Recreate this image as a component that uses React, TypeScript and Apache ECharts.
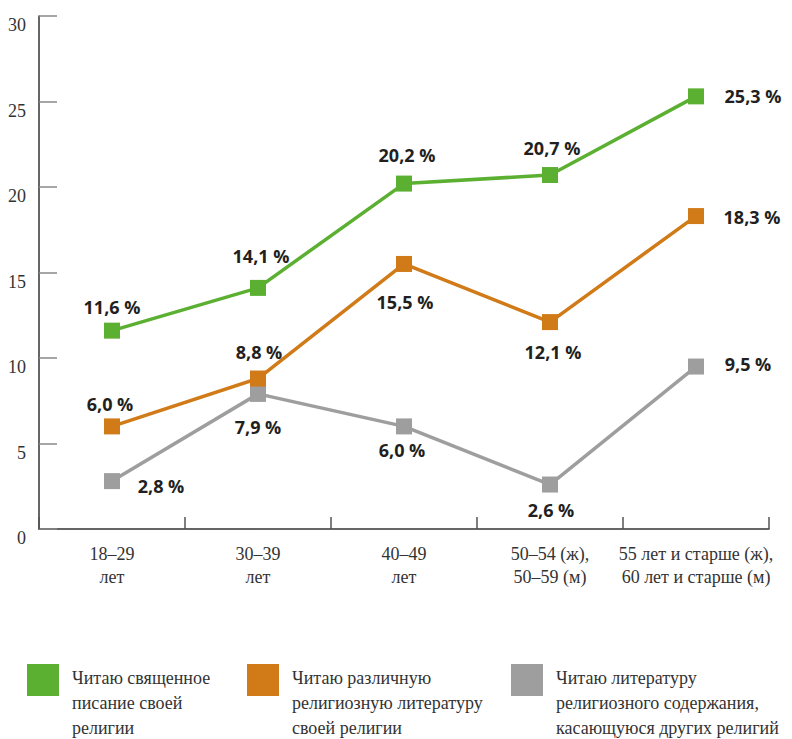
import React, { useEffect, useRef } from "react";
import * as echarts from "echarts";

const categories = [
  "18–29\nлет",
  "30–39\nлет",
  "40–49\nлет",
  "50–54 (ж),\n50–59 (м)",
  "55 лет и старше (ж),\n60 лет и старше (м)",
];
const scriptureValues = [11.6, 14.1, 20.2, 20.7, 25.3];
const ownLiteratureValues = [6.0, 8.8, 15.5, 12.1, 18.3];
const otherReligionsValues = [2.8, 7.9, 6.0, 2.6, 9.5];
const seriesNames = [
  "Читаю священное\nписание своей\nрелигии",
  "Читаю различную\nрелигиозную литературу\nсвоей религии",
  "Читаю литературу\nрелигиозного содержания,\nкасающуюся других религий",
];
const yTicks = { min: 0, max: 30, interval: 5 };

// label offsets (styling), relative to each marker centre
const scriptureOffsets = [[0, -24], [3, -32], [3, -29], [2, -27], [57, 0]];
const ownOffsets = [[-2, -22], [1, -27], [1, 38], [3, 30], [56, 1]];
const otherOffsets = [[49, 5], [0, 33], [-2, 24], [1, 25], [52, -3]];

const COLORS = ["#5bb031", "#d17a18", "#9e9e9e"];
const SERIF = "'Liberation Serif', 'DejaVu Serif', serif";
const SANS = "'Open Sans', 'Noto Sans', sans-serif";

const fmt = (v: number) => v.toFixed(1).replace(".", ",") + " %";

function buildData(values: number[], offsets: number[][]) {
  return values.map((v, i) => ({
    value: v,
    label: { offset: offsets[i] },
  }));
}

export default function App() {
  const ref = useRef<HTMLDivElement>(null);
  useEffect(() => {
    if (!ref.current) return;
    const chart = echarts.init(ref.current, null, { renderer: "svg" });
    const mkSeries = (name: string, values: number[], offsets: number[][], color: string, z: number) => ({
      type: "line",
      name,
      data: buildData(values, offsets),
      symbol: "rect",
      symbolSize: 16,
      z,
      lineStyle: { color, width: 3.5 },
      itemStyle: { color },
      label: {
        show: true,
        position: "inside",
        formatter: (p: any) => fmt(p.value),
        fontFamily: SANS,
        fontWeight: 700,
        fontSize: 18,
        color: "#231f20",
        align: "center",
        verticalAlign: "middle",
      },
    });
    const legendGraphics: any[] = [];
    const legendX = [27, 247, 511];
    seriesNames.forEach((n, i) => {
      legendGraphics.push({
        type: "rect",
        shape: { x: legendX[i], y: 664, width: 32, height: 32 },
        style: { fill: COLORS[i] },
      });
      legendGraphics.push({
        type: "text",
        x: legendX[i] + 45,
        y: 665,
        style: {
          text: n,
          font: `18px ${SERIF}`,
          fill: "#333",
          lineHeight: 25,
          verticalAlign: "top",
          align: "left",
        },
      });
    });
    chart.setOption({
      animation: false,
      grid: { left: 39, right: 23, top: 16, bottom: 210, containLabel: false },
      xAxis: {
        type: "category",
        data: categories,
        boundaryGap: true,
        axisLine: { lineStyle: { color: "#333", width: 1.5 } },
        axisTick: { show: true, inside: true, length: 12, lineStyle: { color: "#555", width: 1.5 } },
        axisLabel: {
          fontFamily: SERIF,
          fontSize: 18,
          lineHeight: 23,
          color: "#333",
          margin: 13,
          interval: 0,
        },
      },
      yAxis: {
        type: "value",
        min: yTicks.min,
        max: yTicks.max,
        interval: yTicks.interval,
        axisLine: { show: true, lineStyle: { color: "#333", width: 1.5 } },
        axisTick: { show: true, inside: true, length: 18, lineStyle: { color: "#888", width: 1.5 } },
        splitLine: { show: false },
        axisLabel: {
          fontFamily: SERIF,
          fontSize: 18,
          color: "#333",
          margin: 13,
          verticalAlign: "top",
        },
      },
      series: [
        mkSeries(seriesNames[2], otherReligionsValues, otherOffsets, COLORS[2], 2),
        mkSeries(seriesNames[1], ownLiteratureValues, ownOffsets, COLORS[1], 3),
        mkSeries(seriesNames[0], scriptureValues, scriptureOffsets, COLORS[0], 4),
      ],
      graphic: legendGraphics,
    });
    return () => chart.dispose();
  }, []);
  return (
    <div
      ref={ref}
      style={{ position: "fixed", left: 0, top: 0, width: 792, height: 739, background: "#fff" }}
    />
  );
}
